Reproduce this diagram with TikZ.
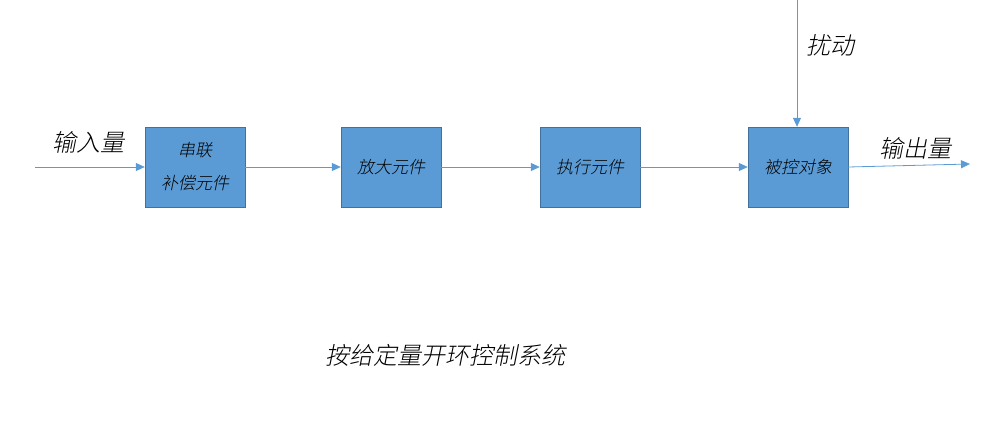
\documentclass[tikz,border=0pt]{standalone}
\usepackage{fontspec}
\newfontfamily\cjk[FakeSlant=0.2]{Noto Sans CJK SC Light}
\usetikzlibrary{arrows.meta}
\definecolor{boxf}{HTML}{5B9BD5}
\definecolor{boxd}{HTML}{41719C}
\definecolor{ln}{HTML}{5B9BD5}
\begin{document}
\begin{tikzpicture}[x=1pt,y=-1pt,
  blk/.style={draw=boxd,fill=boxf,minimum width=100pt,minimum height=80pt,inner sep=0pt,font=\cjk\fontsize{17}{33}\selectfont,align=center},
  lab/.style={font=\cjk\fontsize{24}{26}\selectfont},
  con/.style={ln,line width=0.8pt,-{Triangle[length=9pt,width=8pt]}}]
\useasboundingbox (0,0) rectangle (1000,422);
\node[blk] (b1) at (195,167) {串联\\补偿元件};
\node[blk] (b2) at (391,167) {放大元件};
\node[blk] (b3) at (590,167) {执行元件};
\node[blk] (b4) at (798,167) {被控对象};
\coordinate (in) at (35,167);
\coordinate (out) at (970,164);
\coordinate (top) at (797,0);
\draw[con] (in) -- (b1);
\draw[con] (b1) -- (b2);
\draw[con] (b2) -- (b3);
\draw[con] (b3) -- (b4);
\draw[con] (b4.east) -- (out);
\draw[con] (top) -- (b4.north -| top);
\node[lab] (li) at (88,142) {输入量};
\node[lab] (lo) at (915,148) {输出量};
\node[lab] (ld) at (830,45) {扰动};
\node[lab] (cap) at (445,355) {按给定量开环控制系统};
\end{tikzpicture}
\end{document}
